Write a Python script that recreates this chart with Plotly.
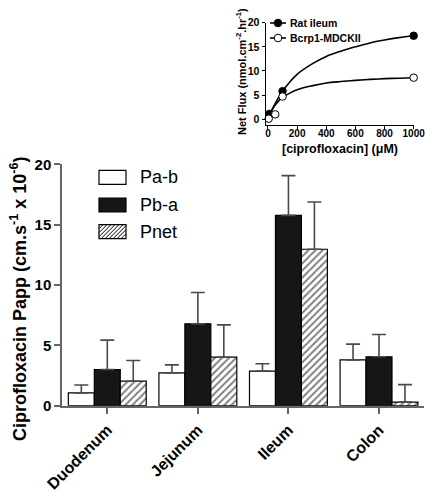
import plotly.graph_objects as go

# ---------- main bar chart data ----------
segments = ["Duodenum", "Jejunum", "Ileum", "Colon"]
pab_mean = [1.06, 2.72, 2.87, 3.80]
pab_err = [0.66, 0.66, 0.61, 1.30]
pba_mean = [3.00, 6.78, 15.77, 4.05]
pba_err = [2.43, 2.60, 3.29, 1.85]
pnet_mean = [2.03, 4.02, 12.96, 0.30]
pnet_err = [1.71, 2.68, 3.92, 1.45]
y_ticks = [0, 5, 10, 15, 20]
series_names = ["Pa-b", "Pb-a", "Pnet"]

# ---------- inset data ----------
rat_x = [10, 100, 1000]
rat_y = [1.1, 5.8, 17.3]
bcrp_x = [5, 50, 100, 1000]
bcrp_y = [0.1, 1.0, 4.7, 8.6]
# fitted curves
curve_x = [0, 25, 50, 100, 150, 200, 300, 400, 500, 600, 700, 800, 900, 1000]
rat_curve = [0, 1.8, 3.3, 5.8, 7.7, 9.3, 11.4, 13.0, 14.1, 15.0, 15.8, 16.4, 16.9, 17.3]
bcrp_curve = [0, 1.75, 2.96, 4.5, 5.4, 6.1, 6.9, 7.5, 7.8, 8.05, 8.25, 8.4, 8.5, 8.6]
inset_xticks = [0, 200, 400, 600, 800, 1000]
inset_yticks = [0, 5, 10, 15, 20]
inset_names = ["Rat ileum", "Bcrp1-MDCKII"]

FONT = "Liberation Sans, Arial, sans-serif"
W, H = 425, 497
ERRC = "#4a4a4a"
AXC = "#666666"


def px(x):
    return x / W


def py(y):
    return 1 - y / H


fig = go.Figure()


def err(arr):
    return dict(type="data", array=arr, arrayminus=[0] * len(arr), symmetric=False,
                color=ERRC, thickness=1.6, width=7)


PATTERN = dict(shape="/", fgcolor="black", bgcolor="white", size=5, solidity=0.4)

fig.add_trace(go.Bar(x=segments, y=pab_mean, name=series_names[0], error_y=err(pab_err),
                     marker=dict(color="white", line=dict(color="black", width=1.2)),
                     showlegend=False))
fig.add_trace(go.Bar(x=segments, y=pba_mean, name=series_names[1], error_y=err(pba_err),
                     marker=dict(color="#161616", line=dict(color="black", width=1.2)),
                     showlegend=False))
fig.add_trace(go.Bar(x=segments, y=pnet_mean, name=series_names[2], error_y=err(pnet_err),
                     marker=dict(color="white", line=dict(color="black", width=1.2), pattern=PATTERN),
                     showlegend=False))

# inset curves
fig.add_trace(go.Scatter(x=curve_x, y=rat_curve, mode="lines", line=dict(color="black", width=1.6, shape="spline"),
                         xaxis="x2", yaxis="y2", showlegend=False, hoverinfo="skip"))
fig.add_trace(go.Scatter(x=curve_x, y=bcrp_curve, mode="lines", line=dict(color="black", width=1.6, shape="spline"),
                         xaxis="x2", yaxis="y2", showlegend=False, hoverinfo="skip"))
fig.add_trace(go.Scatter(x=rat_x, y=rat_y, mode="markers", name=inset_names[0],
                         marker=dict(color="black", size=7.5, symbol="circle", line=dict(color="black", width=1)),
                         xaxis="x2", yaxis="y2", showlegend=False, cliponaxis=False))
fig.add_trace(go.Scatter(x=bcrp_x, y=bcrp_y, mode="markers", name=inset_names[1],
                         marker=dict(color="white", size=7.5, symbol="circle", line=dict(color="black", width=1)),
                         xaxis="x2", yaxis="y2", showlegend=False, cliponaxis=False))

shapes = []
annotations = []


def pshape(**kw):
    d = dict(xref="paper", yref="paper")
    d.update(kw)
    shapes.append(d)


# ---------- main legend (drawn manually) ----------
leg_rows = [177.3, 205.0, 231.7]
bx0, bx1, bh = 99.0, 126.0, 7.0
fills = ["white", "#161616", "white"]
for i, yc in enumerate(leg_rows):
    pshape(type="rect", x0=px(bx0), x1=px(bx1), y0=py(yc + bh), y1=py(yc - bh),
           fillcolor=fills[i], line=dict(color="black", width=1.2), layer="above")
    if i == 2:
        path = ""
        x = bx0 - 2 * bh
        while x < bx1:
            t0 = max(0.0, bx0 - x)
            t1 = min(2 * bh, bx1 - x)
            if t1 > t0:
                xa, ya = x + t0, yc + bh - t0
                xb, yb = x + t1, yc + bh - t1
                path += f"M{px(xa)},{py(ya)} L{px(xb)},{py(yb)} "
            x += 4.0
        pshape(type="path", path=path, line=dict(color="black", width=1), layer="above")
    annotations.append(dict(text=series_names[i], x=px(139), y=py(yc), xref="paper", yref="paper",
                            xanchor="left", yanchor="middle", showarrow=False, borderpad=0,
                            font=dict(family=FONT, size=18, color="black")))

# ---------- inset legend (drawn manually) ----------
in_rows = [23.0, 38.0]
in_fill = ["black", "white"]
for i, yc in enumerate(in_rows):
    pshape(type="line", x0=px(270), x1=px(286), y0=py(yc), y1=py(yc),
           line=dict(color="black", width=1.6), layer="above")
    pshape(type="circle", x0=px(278 - 3.8), x1=px(278 + 3.8), y0=py(yc + 3.8), y1=py(yc - 3.8),
           fillcolor=in_fill[i], line=dict(color="black", width=1), layer="above")
    annotations.append(dict(text=inset_names[i], x=px(289), y=py(yc), xref="paper", yref="paper",
                            xanchor="left", yanchor="middle", showarrow=False, borderpad=0,
                            font=dict(family=FONT, size=10.5, color="black", weight="bold")))

annotations += [
    dict(text="Ciprofloxacin Papp (cm.s<sup>-1</sup> x 10<sup>-6</sup>)", textangle=-90,
         x=px(18), y=py(299), xref="paper", yref="paper", showarrow=False,
         xanchor="center", yanchor="middle",
         font=dict(family=FONT, size=18, color="black", weight="bold")),
    dict(text="Net Flux (nmol.cm<sup>-2</sup>.hr<sup>-1</sup>)", textangle=-90,
         x=px(241), y=py(71), xref="paper", yref="paper", showarrow=False,
         xanchor="center", yanchor="middle", borderpad=0,
         font=dict(family=FONT, size=11, color="black", weight="bold")),
    dict(text="[ciprofloxacin] (\u03bcM)",
         x=px(340), y=py(149), xref="paper", yref="paper", showarrow=False,
         xanchor="center", yanchor="middle", borderpad=0,
         font=dict(family=FONT, size=12.5, color="black", weight="bold")),
]

common = dict(showgrid=False, zeroline=False, automargin=False)

fig.update_layout(
    width=W, height=H,
    margin=dict(l=0, r=0, t=0, b=0, pad=0),
    paper_bgcolor="white", plot_bgcolor="white",
    font=dict(family=FONT, color="black"),
    barmode="group", bargap=0.14, bargroupgap=0,
    showlegend=False,
    xaxis=dict(domain=[px(62), px(424.3)], range=[-0.5, 3.5], type="category",
               showline=True, linecolor=AXC, linewidth=1.5, ticks="outside", ticklen=7,
               tickcolor=AXC, tickwidth=1.5, tickangle=-45,
               tickfont=dict(family=FONT, size=16, color="black", weight="bold"),
               anchor="y", **common),
    yaxis=dict(domain=[py(405.7), py(164.3)], range=[0, 20], tickvals=y_ticks,
               showline=True, linecolor=AXC, linewidth=1.5, ticks="outside", ticklen=6,
               tickcolor=AXC, tickwidth=1.5,
               tickfont=dict(family=FONT, size=15, color="black", weight="bold"),
               anchor="x", **common),
    xaxis2=dict(domain=[px(265.5), px(414.4)], range=[-17, 1005], tickvals=inset_xticks,
                showline=True, linecolor="black", linewidth=1, ticks="outside", ticklen=3,
                tickcolor="black", tickfont=dict(family=FONT, size=10, color="black", weight="bold"),
                ticklabeloverflow="allow", ticklabelstandoff=-4,
                anchor="y2", **common),
    yaxis2=dict(domain=[py(124.5), py(22.7)], range=[-1.1, 20], tickvals=inset_yticks,
                showline=True, linecolor="black", linewidth=1, ticks="outside", ticklen=3,
                tickcolor="black", tickfont=dict(family=FONT, size=10.5, color="black", weight="bold"),
                ticklabeloverflow="allow",
                anchor="x2", **common),
    shapes=shapes,
    annotations=annotations,
)

# remove the default page margin so the 425x497 figure fills the window exactly
fig.write_html("out.html",
               config={"displayModeBar": False},
               post_script="document.body.style.margin='0';document.body.style.overflow='hidden';")
